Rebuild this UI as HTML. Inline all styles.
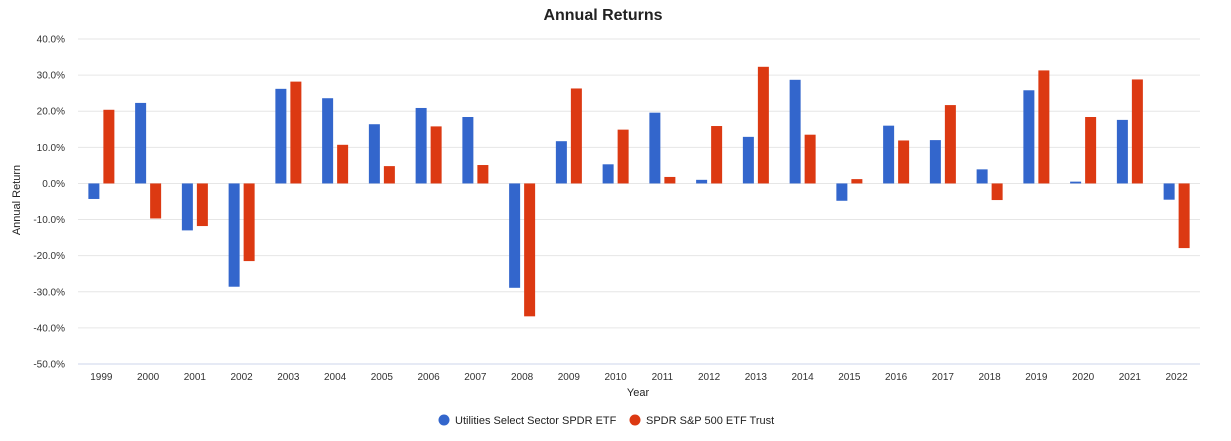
<!DOCTYPE html>
<html><head><meta charset="utf-8"><style>
html,body{margin:0;padding:0;background:#fff;}
svg text{font-family:"Liberation Sans",Arial,sans-serif;}
</style></head><body>
<svg id="chart" width="1231" height="436" xmlns="http://www.w3.org/2000/svg">
<text x="603" y="20" text-anchor="middle" font-size="16" font-weight="bold" fill="#222">Annual Returns</text>
<text transform="translate(20,200) rotate(-90)" text-anchor="middle" font-size="11" fill="#222">Annual Return</text>
<text x="638" y="396" text-anchor="middle" font-size="11" fill="#222">Year</text>
<g id="grid"></g><g id="bars"></g><g id="xlabels"></g>
<g>
<g><circle cx="444" cy="420" r="5.5" fill="#3366cc"/><text x="455" y="424" font-size="11" fill="#222">Utilities Select Sector SPDR ETF</text></g>
<g><circle cx="635" cy="420" r="5.5" fill="#dc3912"/><text x="646" y="424" font-size="11" fill="#222">SPDR S&amp;P 500 ETF Trust</text></g>
</g>
</svg>
<script>
const years=["1999","2000","2001","2002","2003","2004","2005","2006","2007","2008","2009","2010","2011","2012","2013","2014","2015","2016","2017","2018","2019","2020","2021","2022"];
const utilities=[-4.3,22.3,-13.0,-28.6,26.2,23.6,16.4,20.9,18.4,-28.9,11.7,5.3,19.6,1.0,12.9,28.7,-4.8,16.0,12.0,3.9,25.8,0.5,17.6,-4.5];
const spy=[20.4,-9.7,-11.8,-21.5,28.2,10.7,4.8,15.8,5.1,-36.8,26.3,14.9,1.8,15.9,32.3,13.5,1.2,11.9,21.7,-4.6,31.3,18.4,28.8,-17.9];
const yTicks=[40,30,20,10,0,-10,-20,-30,-40,-50];
const NS="http://www.w3.org/2000/svg";
const x0=78,x1=1200,yTop=39,yBot=364,vMax=40,vMin=-50;
const y=v=>yTop+(vMax-v)/(vMax-vMin)*(yBot-yTop);
const band=(x1-x0)/years.length;
const xc=i=>x0+band*(i+0.5);
function mk(tag,attrs,parent){const e=document.createElementNS(NS,tag);for(const k in attrs)e.setAttribute(k,attrs[k]);parent.appendChild(e);return e;}
const grid=document.getElementById('grid');
yTicks.forEach(t=>{
  const l=mk('line',{x1:x0,x2:x1,y1:y(t),y2:y(t),stroke:t===vMin?'#ccd6eb':'#e6e6e6','stroke-width':1},grid);
  
  
  const tx=mk('text',{x:65,y:y(t)+3.5,'text-anchor':'end','font-size':10,fill:'#333'},grid);
  tx.textContent=t.toFixed(1)+'%';
  
  
});
const bars=document.getElementById('bars');
const bw=11;
function drawBar(v,cx,color,name){
  const top=Math.min(y(v),y(0)),h=Math.abs(y(v)-y(0));
  const r=mk('rect',{x:cx,y:top,width:bw,height:Math.max(h,0.5),fill:color},bars);
  
  
}
const xl=document.getElementById('xlabels');
years.forEach((yr,i)=>{
  drawBar(utilities[i],xc(i)-bw-2,'#3366cc','bar-utilities-'+yr);
  drawBar(spy[i],xc(i)+2,'#dc3912','bar-spy-'+yr);
  const t=mk('text',{x:xc(i),y:380,'text-anchor':'middle','font-size':10,fill:'#333'},xl);
  t.textContent=yr;
  
  
});
</script>
</body></html>
